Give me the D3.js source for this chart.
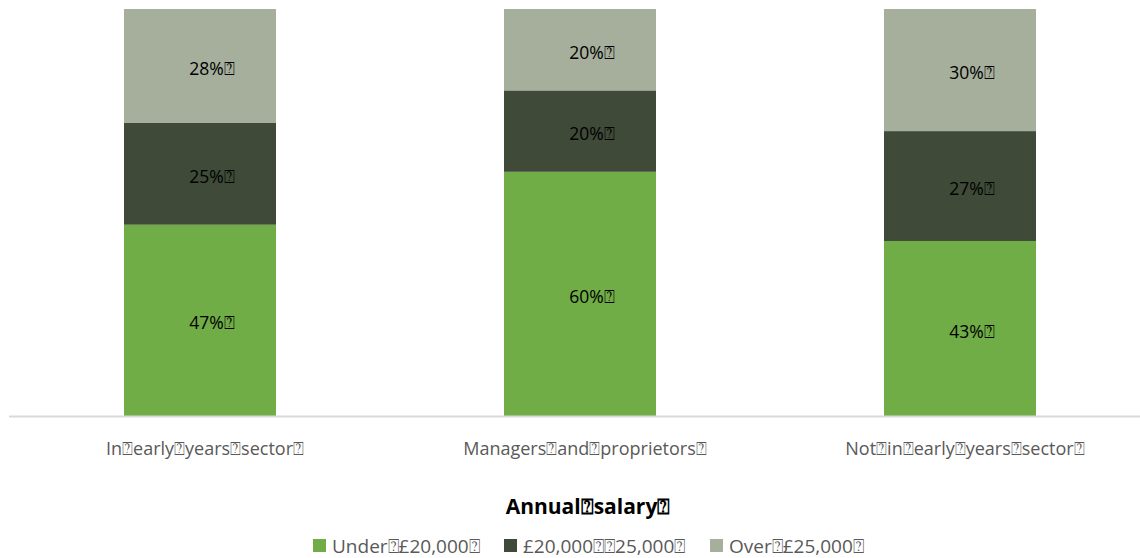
<!DOCTYPE html>
<html><head><meta charset="utf-8">
<script src="https://cdn.jsdelivr.net/npm/d3@7"></script>
<style>
body{margin:0;background:#fff;}
text{font-family:"Open Sans","Liberation Sans",Arial,sans-serif;}
</style></head>
<body>
<svg id="chart" width="1140" height="558"></svg>
<script>
const B = "\u2370";
const categories = ["In" + B + "early" + B + "years" + B + "sector" + B,
                    "Managers" + B + "and" + B + "proprietors" + B,
                    "Not" + B + "in" + B + "early" + B + "years" + B + "sector" + B];
const seriesNames = ["Under" + B + "£20,000" + B, "£20,000" + B + B + "25,000" + B, "Over" + B + "£25,000" + B];
const under20 = [47, 60, 43];
const mid20to25 = [25, 20, 27];
const over25 = [28, 20, 30];
const colors = ["#70AD47", "#3F4A38", "#A6AE9C"];
const title = "Annual" + B + "salary" + B;

const svg = d3.select("#chart");
const x = d3.scaleBand().domain(categories).range([10, 1150]).paddingInner(0.6).paddingOuter(0.3);
const y = d3.scaleLinear().domain([0, 100]).range([416, 9]);

const seriesVals = [under20, mid20to25, over25];
const rows = categories.map((c, i) => {
  const r = {cat: c};
  seriesNames.forEach((s, j) => r[s] = seriesVals[j][i]);
  return r;
});
const stacked = d3.stack().keys(seriesNames)(rows);

const g = svg.append("g");
stacked.forEach((layer, j) => {
  g.selectAll(null).data(layer).enter().append("rect")
    .attr("x", d => x(d.data.cat))
    .attr("width", x.bandwidth())
    .attr("y", d => y(d[1]))
    .attr("height", d => y(d[0]) - y(d[1]))
    .attr("fill", colors[j]);
  g.selectAll(null).data(layer).enter().append("text")
    .attr("x", d => x(d.data.cat) + x.bandwidth() / 2 + 12)
    .attr("y", d => (y(d[0]) + y(d[1])) / 2 + 3)
    .attr("dy", "0.35em")
    .attr("text-anchor", "middle")
    .attr("font-size", 17.5)
    .attr("fill", "#000")
    .text(d => (d[1] - d[0]) + "%" + B);
});

// axis
const axis = d3.axisBottom(x).tickSize(0).tickPadding(0);
const ax = svg.append("g").attr("transform", "translate(0,416)").call(axis);
ax.select(".domain").remove();
ax.selectAll("text").attr("font-size", 18).attr("fill", "#595959").attr("dy", "2.15em").attr("dx", 5)
  .style("font-family", "'Open Sans','Liberation Sans',Arial,sans-serif");
svg.append("line").attr("x1", 9).attr("x2", 1140).attr("y1", 416.5).attr("y2", 416.5)
  .attr("stroke", "#D9D9D9").attr("stroke-width", 2);

svg.append("text").attr("x", 588).attr("y", 514).attr("text-anchor", "middle")
  .attr("font-size", 21).attr("font-weight", "bold").attr("fill", "#000").text(title);

// legend
const legX = [313, 504, 710];
const leg = svg.append("g");
seriesNames.forEach((s, j) => {
  leg.append("rect").attr("x", legX[j]).attr("y", 539).attr("width", 13).attr("height", 13).attr("fill", colors[j]);
  leg.append("text").attr("x", legX[j] + 19).attr("y", 553).attr("font-size", 19).attr("fill", "#595959").text(s);
});
</script>
</body></html>
